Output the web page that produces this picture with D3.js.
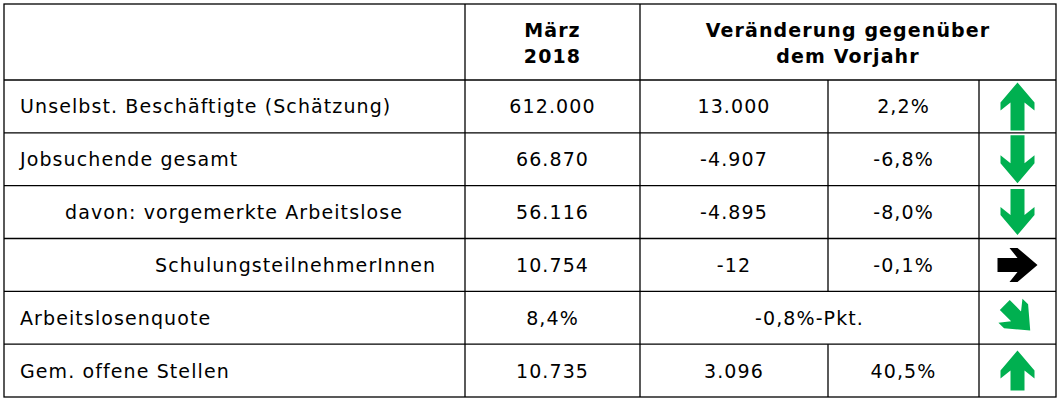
<!DOCTYPE html><html><head><meta charset="utf-8"><script src="https://cdn.jsdelivr.net/npm/d3@7"></script>
<style>body{margin:0;background:#fff}</style></head><body><svg id="c" width="1061" height="403"></svg>
<script>
const labels=["Unselbst. Beschäftigte (Schätzung)","Jobsuchende gesamt","davon: vorgemerkte Arbeitslose","SchulungsteilnehmerInnen","Arbeitslosenquote","Gem. offene Stellen"];
const labelX=[20,20,65,155,20,20];
const march=["612.000","66.870","56.116","10.754","8,4%","10.735"];
const absChange=["13.000","-4.907","-4.895","-12","-0,8%-Pkt.","3.096"];
const pctChange=["2,2%","-6,8%","-8,0%","-0,1%",null,"40,5%"];
const arrowDir=[0,180,180,90,135,0];
const arrowLen=[48,48,46,40,36,40];
const arrowCol=["#00B050","#00B050","#00B050","#000","#00B050","#00B050"];
const svg=d3.select("#c");
const colX=[4,465,640,828,979,1056];
const y=d3.scaleBand().domain(d3.range(6)).range([80,397]);
const font="DejaVu Sans, Verdana, sans-serif";
const g=svg.append("g").attr("font-family",font).attr("font-size",19).attr("letter-spacing",1.1).attr("fill","#000");
g.append("text").attr("x",(colX[1]+colX[2])/2).attr("y",37).attr("text-anchor","middle").attr("font-weight","bold").text("März");
g.append("text").attr("x",(colX[1]+colX[2])/2).attr("y",63).attr("text-anchor","middle").attr("font-weight","bold").text("2018");
g.append("text").attr("x",(colX[2]+colX[5])/2).attr("y",37).attr("text-anchor","middle").attr("font-weight","bold").text("Veränderung gegenüber");
g.append("text").attr("x",(colX[2]+colX[5])/2).attr("y",63).attr("text-anchor","middle").attr("font-weight","bold").text("dem Vorjahr");
const rows=g.selectAll("g.r").data(d3.range(6)).join("g").attr("transform",i=>`translate(0,${y(i)+y.bandwidth()/2+7})`);
rows.append("text").attr("x",i=>labelX[i]).text(i=>labels[i]);
rows.append("text").attr("x",(colX[1]+colX[2])/2).attr("text-anchor","middle").text(i=>march[i]);
rows.append("text").attr("x",i=>pctChange[i]?(colX[2]+colX[3])/2:(colX[2]+colX[4])/2).attr("text-anchor","middle").text(i=>absChange[i]);
rows.filter(i=>pctChange[i]).append("text").attr("x",(colX[3]+colX[4])/2).attr("text-anchor","middle").text(i=>pctChange[i]);
function arrow(L){const h=20,hw=17,sw=7,n=8;return `M0,${-L/2}L${hw},${-L/2+h}L${hw},${-L/2+h+n}L${sw},${-L/2+h+n-8}L${sw},${L/2}L${-sw},${L/2}L${-sw},${-L/2+h+n-8}L${-hw},${-L/2+h+n}L${-hw},${-L/2+h}Z`;}
svg.selectAll("path.a").data(d3.range(6)).join("path").attr("d",i=>arrow(arrowLen[i])).attr("fill",i=>arrowCol[i])
 .attr("transform",i=>`translate(${(colX[4]+colX[5])/2},${y(i)+y.bandwidth()/2}) rotate(${arrowDir[i]})`);
const L=svg.append("g").attr("stroke","#000").attr("stroke-width",1.3);
L.append("rect").attr("x",4).attr("y",4).attr("width",1052).attr("height",393).attr("fill","none");
[80,...d3.range(1,6).map(i=>y(i))].forEach(v=>L.append("line").attr("x1",4).attr("x2",1056).attr("y1",v).attr("y2",v));
L.append("line").attr("x1",colX[1]).attr("x2",colX[1]).attr("y1",4).attr("y2",397);
L.append("line").attr("x1",colX[2]).attr("x2",colX[2]).attr("y1",4).attr("y2",397);
d3.range(6).forEach(i=>{ if(pctChange[i]) L.append("line").attr("x1",colX[3]).attr("x2",colX[3]).attr("y1",y(i)).attr("y2",y(i)+y.bandwidth());
 L.append("line").attr("x1",colX[4]).attr("x2",colX[4]).attr("y1",y(i)).attr("y2",y(i)+y.bandwidth());});
</script></body></html>
